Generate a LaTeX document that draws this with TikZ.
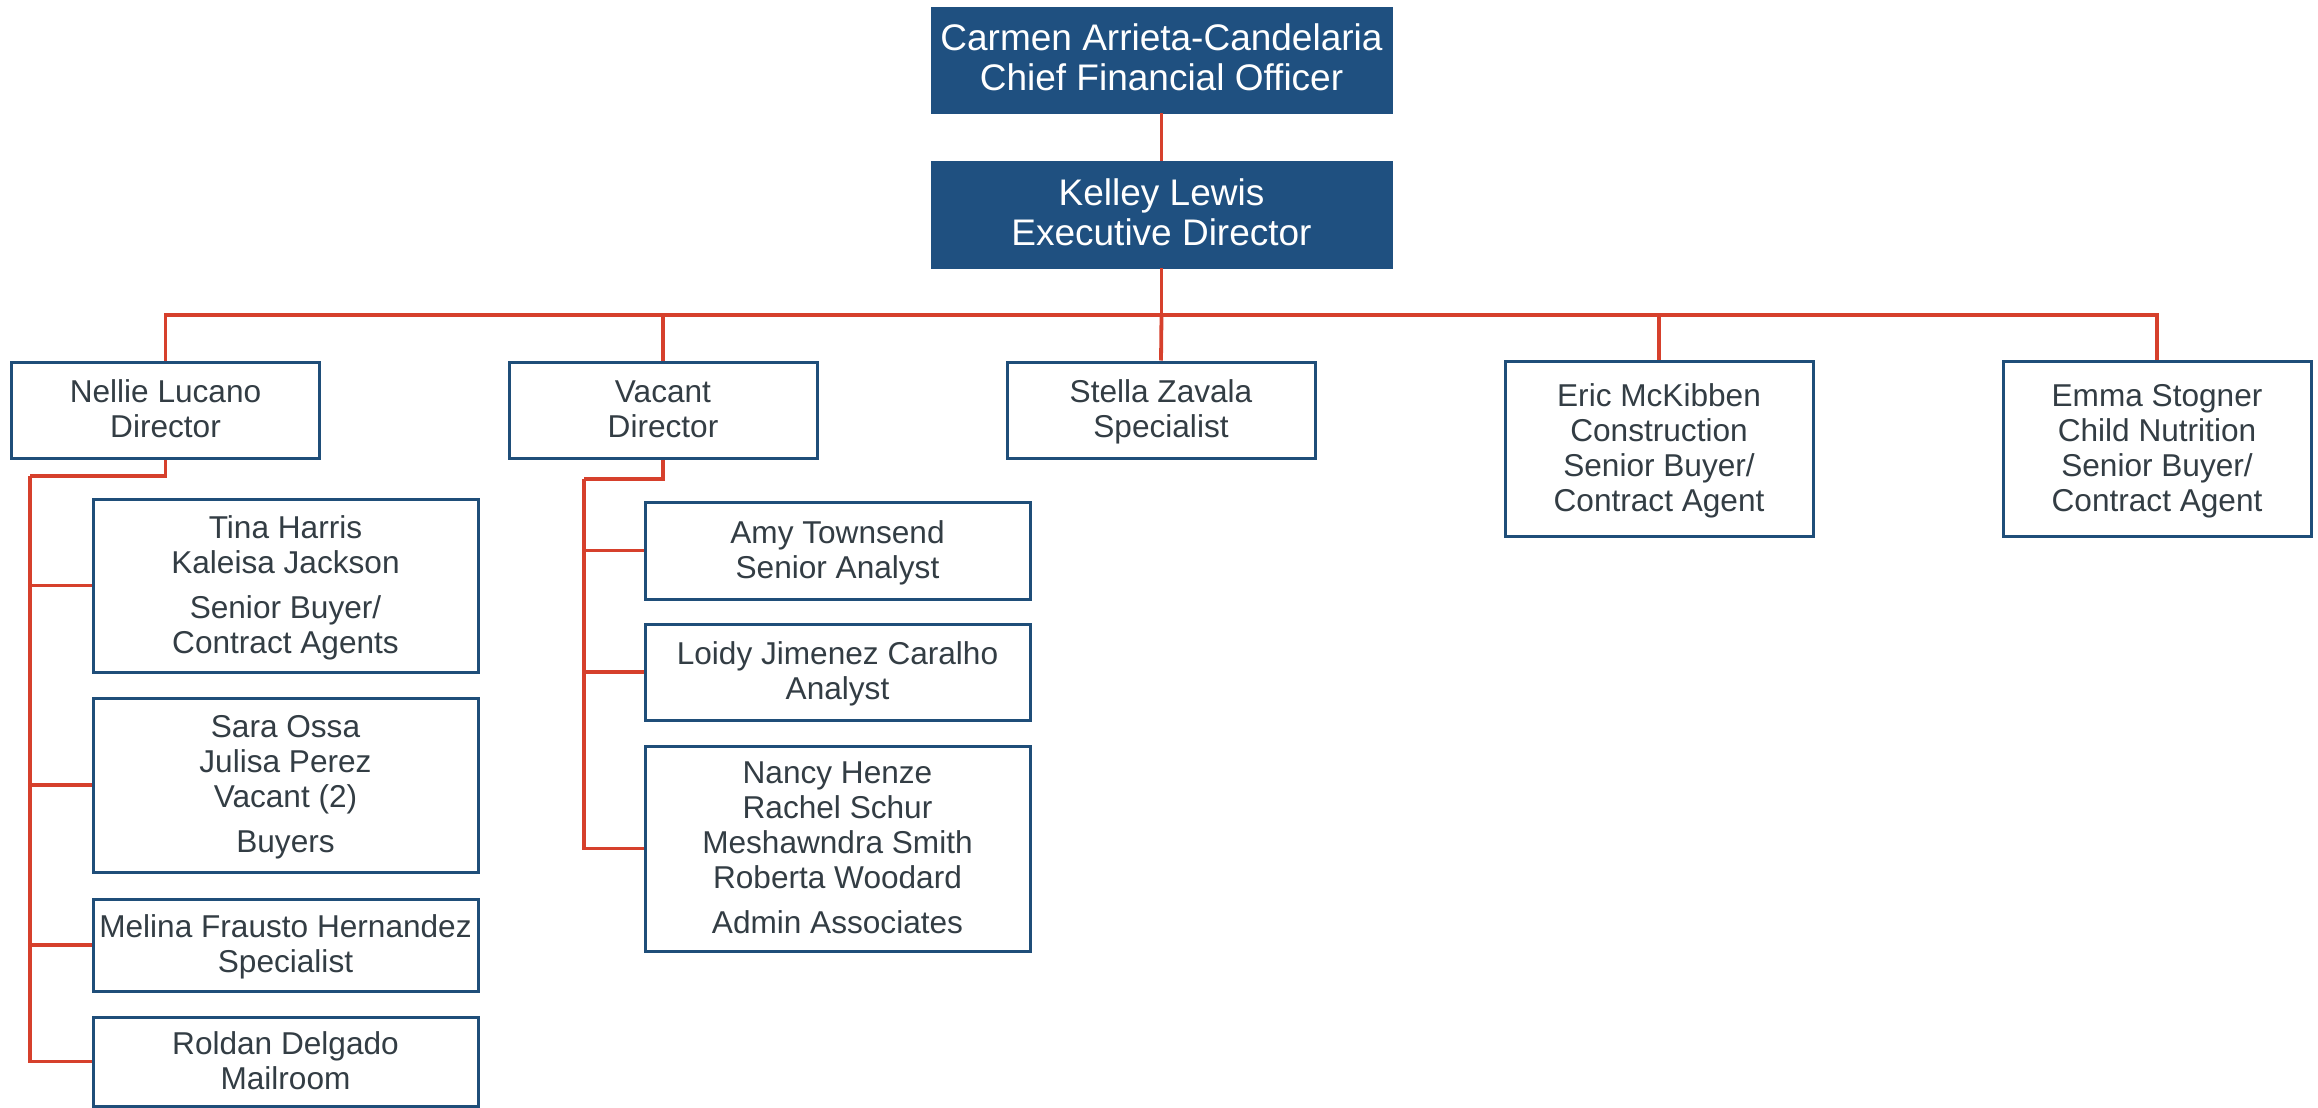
\documentclass[tikz,border=0pt]{standalone}
\usepackage{fontspec}
\setmainfont{Liberation Sans}
\definecolor{boxblue}{HTML}{1F5080}
\definecolor{edgeblue}{HTML}{1F4E79}
\definecolor{linkred}{HTML}{D6402C}
\definecolor{textgray}{HTML}{333D44}
\newcommand{\fst}{\vrule height 14.2pt depth 0pt width 0pt}
\newcommand{\lst}{\vrule height 0pt depth 4pt width 0pt}
\newcommand{\tfst}{\vrule height 14.9pt depth 0pt width 0pt}
\newcommand{\tlst}{\vrule height 0pt depth 4pt width 0pt}
\tikzset{
  topbox/.style={rectangle, fill=boxblue, draw=boxblue, inner sep=0pt, align=center,
    text=white, font={\fontsize{18.5}{20}\selectfont}},
  staffbox/.style={rectangle, fill=white, draw=edgeblue, line width=1.5pt, inner sep=0pt,
    align=center, text=textgray, font={\fontsize{15.8}{17.5}\selectfont}},
  lvltwo/.style={staffbox, minimum width=154pt},
  child/.style={staffbox, minimum width=192.5pt},
  link/.style={draw=linkred, line width=1.9pt, line join=miter}
}
\begin{document}
\begin{tikzpicture}[x=0.5pt, y=-0.5pt]
\useasboundingbox (0,0) rectangle (2318,1108);
% top
\node[topbox, minimum width=230.5pt, minimum height=53pt] (cfo) at (1161.5,60)
  {\tfst Carmen Arrieta-Candelaria\\Chief Financial Officer\tlst};
\node[topbox, minimum width=230.5pt, minimum height=53.5pt] (ed) at (1161.5,214.5)
  {\tfst Kelley Lewis\\Executive Director\tlst};
% level two
\node[lvltwo, minimum height=48pt] (nellie) at (165.5,410) {\fst Nellie Lucano\\Director\lst};
\node[lvltwo, minimum height=48pt] (vacant) at (663,410) {\fst Vacant\\Director\lst};
\node[lvltwo, minimum height=48pt] (stella) at (1161,410) {\fst Stella Zavala\\Specialist\lst};
\node[lvltwo, minimum height=87.5pt] (eric) at (1659,448.5)
  {\fst Eric McKibben\\Construction\\Senior Buyer/\\Contract Agent\lst};
\node[lvltwo, minimum height=87.5pt] (emma) at (2157,448.5)
  {\fst Emma Stogner\\Child Nutrition\\Senior Buyer/\\Contract Agent\lst};
% Nellie's team
\node[child, minimum height=86.5pt] (tina) at (285.5,585.5)
  {\fst Tina Harris\\Kaleisa Jackson\\[5pt]Senior Buyer/\\Contract Agents\lst};
\node[child, minimum height=87pt] (sara) at (285.5,785)
  {\fst Sara Ossa\\Julisa Perez\\Vacant (2)\\[5pt]Buyers\lst};
\node[child, minimum height=46pt] (melina) at (285.5,945)
  {\fst Melina Frausto Hernandez\\Specialist\lst};
\node[child, minimum height=44.5pt] (roldan) at (285.5,1061.5)
  {\fst Roldan Delgado\\Mailroom\lst};
% Vacant's team
\node[child, minimum height=48.5pt] (amy) at (837.5,550.5)
  {\fst Amy Townsend\\Senior Analyst\lst};
\node[child, minimum height=48pt] (loidy) at (837.5,672)
  {\fst Loidy Jimenez Caralho\\Analyst\lst};
\node[child, minimum height=102.5pt] (nancy) at (837.5,848.5)
  {\fst Nancy Henze\\Rachel Schur\\Meshawndra Smith\\Roberta Woodard\\[5pt]Admin Associates\lst};
% connectors
\coordinate (bus) at (1161.5,315);
\coordinate (nbus) at (30,476);
\coordinate (vbus) at (584,479);
\path[link] (cfo.south) -- (ed.north);
\path[link] (ed.south) -- (bus);
\path[link] (bus) -| (nellie.north);
\path[link] (bus) -| (vacant.north);
\path[link] (bus) -- (stella.north);
\path[link] (bus) -| (eric.north);
\path[link] (bus) -| (emma.north);
\path[link] (nellie.south) |- (nbus);
\path[link] (nbus) |- (tina.west);
\path[link] (nbus) |- (sara.west);
\path[link] (nbus) |- (melina.west);
\path[link] (nbus) |- (roldan.west);
\path[link] (vacant.south) |- (vbus);
\path[link] (vbus) |- (amy.west);
\path[link] (vbus) |- (loidy.west);
\path[link] (vbus) |- (nancy.west);
\end{tikzpicture}
\end{document}
